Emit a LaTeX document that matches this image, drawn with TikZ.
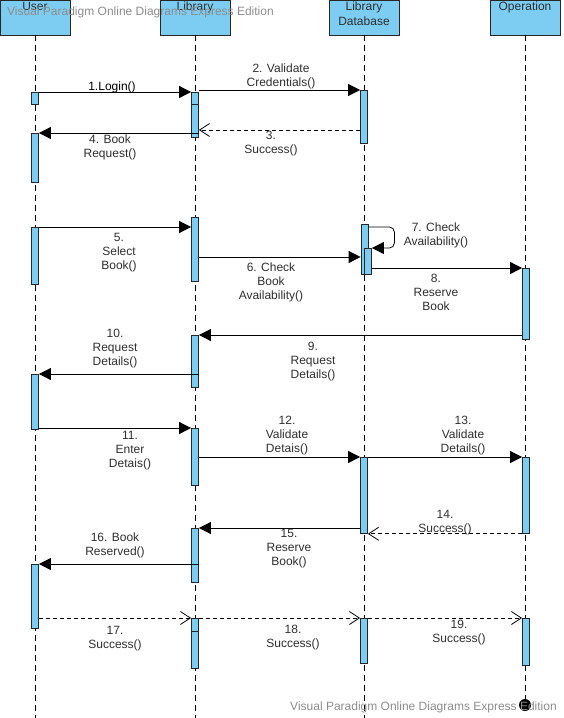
\documentclass[tikz,border=0pt]{standalone}
\usepackage{fontspec}
\setmainfont{Liberation Sans}
\usetikzlibrary{arrows.meta,positioning,calc}
\definecolor{cBar}{HTML}{7DCDF3}
\definecolor{cText}{HTML}{2E2E2E}
\definecolor{cMark}{HTML}{8C8C8C}

\begin{document}
\begin{tikzpicture}[
  x=1pt, y=-1pt,
  font=\fontsize{12}{14}\selectfont,
  head/.style={draw=black!85, fill=cBar, line width=0.8pt, minimum width=70pt, minimum height=35pt, inner sep=0pt},
  headtxt/.style={anchor=north, inner sep=1pt, yshift=-1.5pt, align=center, text=cText, font=\fontsize{12}{15}\selectfont},
  bar/.style={draw=black!85, fill=cBar, line width=0.8pt, minimum width=7pt, minimum height={#1pt}, inner sep=0pt, anchor=north},
  life/.style={line width=0.8pt, dash pattern=on 6pt off 4pt},
  call/.style={-{Triangle[length=12pt,width=12pt]}, line width=0.8pt},
  ret/.style={-{Straight Barb[length=10pt,width=13pt]}, line width=0.8pt, dash pattern=on 4pt off 3pt},
  msg/.style={align=center, text=cText, inner sep=0pt, yshift=-2pt},
  wmark/.style={text=cMark, inner sep=0pt},
]
\useasboundingbox (0,0) rectangle (563,718);
\coordinate (bottom) at (0,718);

% ── lifeline heads ────────────────────────────────────────────────────────
\node[head] (user) at (35,17.5) {};
\node[head] (lib)  at (195,17.5) {};
\node[head] (db)   at (364,17.5) {};
\node[head] (op)   at (525,17.5) {};

% ── lifelines ─────────────────────────────────────────────────────────────
\node[circle, fill=black, minimum size=12pt, inner sep=0pt] (end) at (525,705) {};
\draw[life] (user.south) -- (user.south |- bottom);
\draw[life] (lib.south) -- (lib.south |- bottom);
\draw[life] (db.south) -- (db.south |- bottom);
\draw[life] (op.south) -- (end);

% ── activation bars ───────────────────────────────────────────────────────
\node[bar=12] (u1) at (35,92) {};
\node[bar=49] (u2) at (35,133) {};
\node[bar=57] (u3) at (35,227) {};
\node[bar=55] (u4) at (35,374) {};
\node[bar=64] (u5) at (35,564) {};

\node[bar=12] (l1a) at (195,92) {};
\node[bar=33] (l1b) at (195,104) {};
\node[bar=64] (l2)  at (195,217) {};
\node[bar=52] (l3)  at (195,335) {};
\node[bar=57] (l4)  at (195,428) {};
\node[bar=54] (l5)  at (195,528) {};
\node[bar=13] (l6a) at (195,618) {};
\node[bar=37] (l6b) at (195,631) {};

\node[bar=53] (d1) at (364,90) {};
\node[bar=50] (d2) at (364.5,224) {};
\node[bar=26] (d3) at (368,248) {};
\node[bar=76] (d4) at (364,457) {};
\node[bar=45] (d5) at (364,618) {};

\node[bar=71] (o1) at (526,268) {};
\node[bar=76] (o2) at (526,457) {};
\node[bar=47] (o3) at (526,618) {};

% ── messages ──────────────────────────────────────────────────────────────
\coordinate (r3) at (0,130);
\coordinate (r6) at (0,257);
\draw[call] (u1.north east) -- (l1a.north west);
\draw[call] (l1a.east |- d1.north) -- (d1.north west);
\draw[ret] (d1.west |- r3) -- (l1b.east |- r3);
\draw[call] (l1b.east |- u2.north) -- (u2.north east);
\draw[call] (u3.north east) -- (l2.west |- u3.north);
\draw[call] (l2.east |- r6) -- (d2.west |- r6);
\draw[call, rounded corners=5pt] ([yshift=-3pt]d2.north east) -- ++(26,0) -- ++(0,21) -- (d3.north east);
\draw[call] (d3.east |- o1.north) -- (o1.north west);
\draw[call] (o1.west |- l3.north) -- (l3.north east);
\draw[call] (l3.east |- u4.north) -- (u4.north east);
\draw[call] (u4.east |- l4.north) -- (l4.north west);
\draw[call] (l4.east |- d4.north) -- (d4.north west);
\draw[call] (d4.north east) -- (o2.north west);
\draw[ret] (o2.south west) -- (d4.south east);
\draw[call] (d4.west |- l5.north) -- (l5.north east);
\draw[call] (l5.east |- u5.north) -- (u5.north east);
\draw[ret] (u5.east |- l6a.north) -- (l6a.north west);
\draw[ret] (l6a.north east) -- (d5.north west);
\draw[ret] (d5.north east) -- (o3.north west);

% ── message labels ────────────────────────────────────────────────────────
\node[msg, text=black] (t1) at (112,85) {1.Login()};
\node[msg] (t2)  at (281,74)  {2. Validate\\Credentials()};
\node[msg] (t3)  at (271,141.5) {3.\\Success()};
\node[msg] (t4)  at (110,145) {4. Book\\Request()};
\node[msg] (t5)  at (119,251) {5.\\Select\\Book()};
\node[msg] (t6)  at (271,280) {6. Check\\Book\\Availability()};
\node[msg] (t7)  at (436,233) {7. Check\\Availability()};
\node[msg] (t8)  at (436,290) {8.\\Reserve\\Book};
\node[msg] (t9)  at (313,360) {9.\\Request\\Details()};
\node[msg] (t10) at (115,347) {10.\\Request\\Details()};
\node[msg] (t11) at (130,449) {11.\\Enter\\Detais()};
\node[msg] (t12) at (287,434) {12.\\Validate\\Detais()};
\node[msg] (t13) at (463,434) {13.\\Validate\\Details()};
\node[msg] (t14) at (445,521) {14.\\Success()};
\node[msg] (t15) at (289,547) {15.\\Reserve\\Book()};
\node[msg] (t16) at (115,543) {16. Book\\Reserved()};
\node[msg] (t17) at (115,636.5) {17.\\Success()};
\node[msg] (t18) at (293,636) {18.\\Success()};
\node[msg] (t19) at (459,630.5) {19.\\Success()};

% ── head texts ────────────────────────────────────────────────────────────
\node[headtxt] (userT) at (user.north) {User};
\node[headtxt] (libT)  at (lib.north)  {Library};
\node[headtxt] (dbT)   at (db.north)   {Library\\Database};
\node[headtxt] (opT)   at (op.north)   {Operation};

% ── watermarks ────────────────────────────────────────────────────────────
\node[wmark, anchor=west] (wmTop) at (7,12) {Visual Paradigm Online Diagrams Express Edition};
\node[wmark, anchor=east] (wmBot) at (557,707) {Visual Paradigm Online Diagrams Express Edition};
\end{tikzpicture}
\end{document}
